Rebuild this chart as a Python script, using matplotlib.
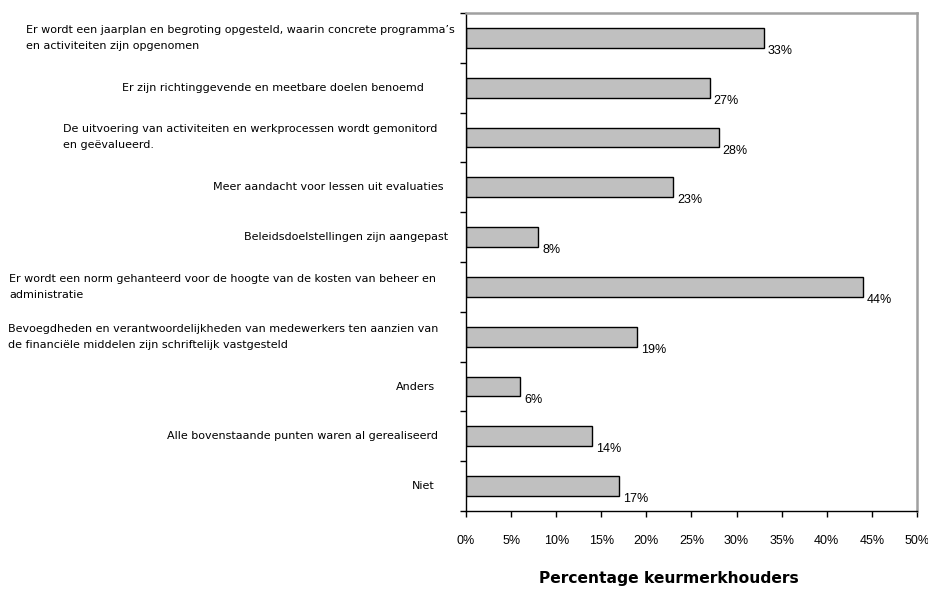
import matplotlib.pyplot as plt
import numpy as np

categories = [
    "Er wordt een jaarplan en begroting opgesteld, waarin concrete programma\u2019s\nen activiteiten zijn opgenomen",
    "Er zijn richtinggevende en meetbare doelen benoemd",
    "De uitvoering van activiteiten en werkprocessen wordt gemonitord\nen ge\u00ebvalueerd.",
    "Meer aandacht voor lessen uit evaluaties",
    "Beleidsdoelstellingen zijn aangepast",
    "Er wordt een norm gehanteerd voor de hoogte van de kosten van beheer en\nadministratie",
    "Bevoegdheden en verantwoordelijkheden van medewerkers ten aanzien van\nde financi\u00eble middelen zijn schriftelijk vastgesteld",
    "Anders",
    "Alle bovenstaande punten waren al gerealiseerd",
    "Niet",
]
values = [33, 27, 28, 23, 8, 44, 19, 6, 14, 17]
xticks = [0, 5, 10, 15, 20, 25, 30, 35, 40, 45, 50]

# right edge of each label block, in figure pixels
labelRight = [455, 424, 437, 444, 448, 436, 438, 435, 438, 435]

W, H = 929, 589
fig = plt.figure(figsize=(W / 100, H / 100), dpi=100)
ax = fig.add_axes([466 / W, 1 - 511 / H, (917 - 466) / W, (511 - 13) / H])

n = len(categories)
pos = np.arange(n) + 0.5
ax.barh(pos, values, height=0.4, color='#C0C0C0', edgecolor='black', linewidth=1.0)
ax.set_ylim(n, 0)
ax.set_xlim(0, 50)

ax.set_yticks(np.arange(n + 1))
ax.set_yticklabels([])
ax.tick_params(axis='y', direction='out', length=4, width=1)
ax.set_xticks(xticks)
ax.set_xticklabels(['{}%'.format(t) for t in xticks], family='Liberation Sans', fontsize=9)
ax.tick_params(axis='x', direction='out', length=4, width=1, pad=13)

ax.spines['left'].set_linewidth(1)
ax.spines['bottom'].set_linewidth(1)
ax.spines['top'].set_color('#A0A0A0')
ax.spines['right'].set_color('#A0A0A0')
ax.spines['top'].set_linewidth(1.8)
ax.spines['right'].set_linewidth(1.8)

for p, v in zip(pos, values):
    ax.annotate('{}%'.format(v), xy=(v, p), xytext=(4, -13), textcoords='offset pixels',
                ha='left', va='center', family='Liberation Sans', fontsize=9)

for p, label, r in zip(pos, categories, labelRight):
    yFig = ax.transData.transform((0, p))[1] / H
    fig.text(r / W, yFig, label, ha='right', va='center', multialignment='left',
             family='DejaVu Sans', fontsize=8.05, linespacing=1.75)

fig.text(669 / W, 1 - 578 / H, 'Percentage keurmerkhouders', ha='center', va='center',
         family='DejaVu Sans', fontsize=11.2, fontweight='bold')

fig.savefig('out.png', dpi=100)
